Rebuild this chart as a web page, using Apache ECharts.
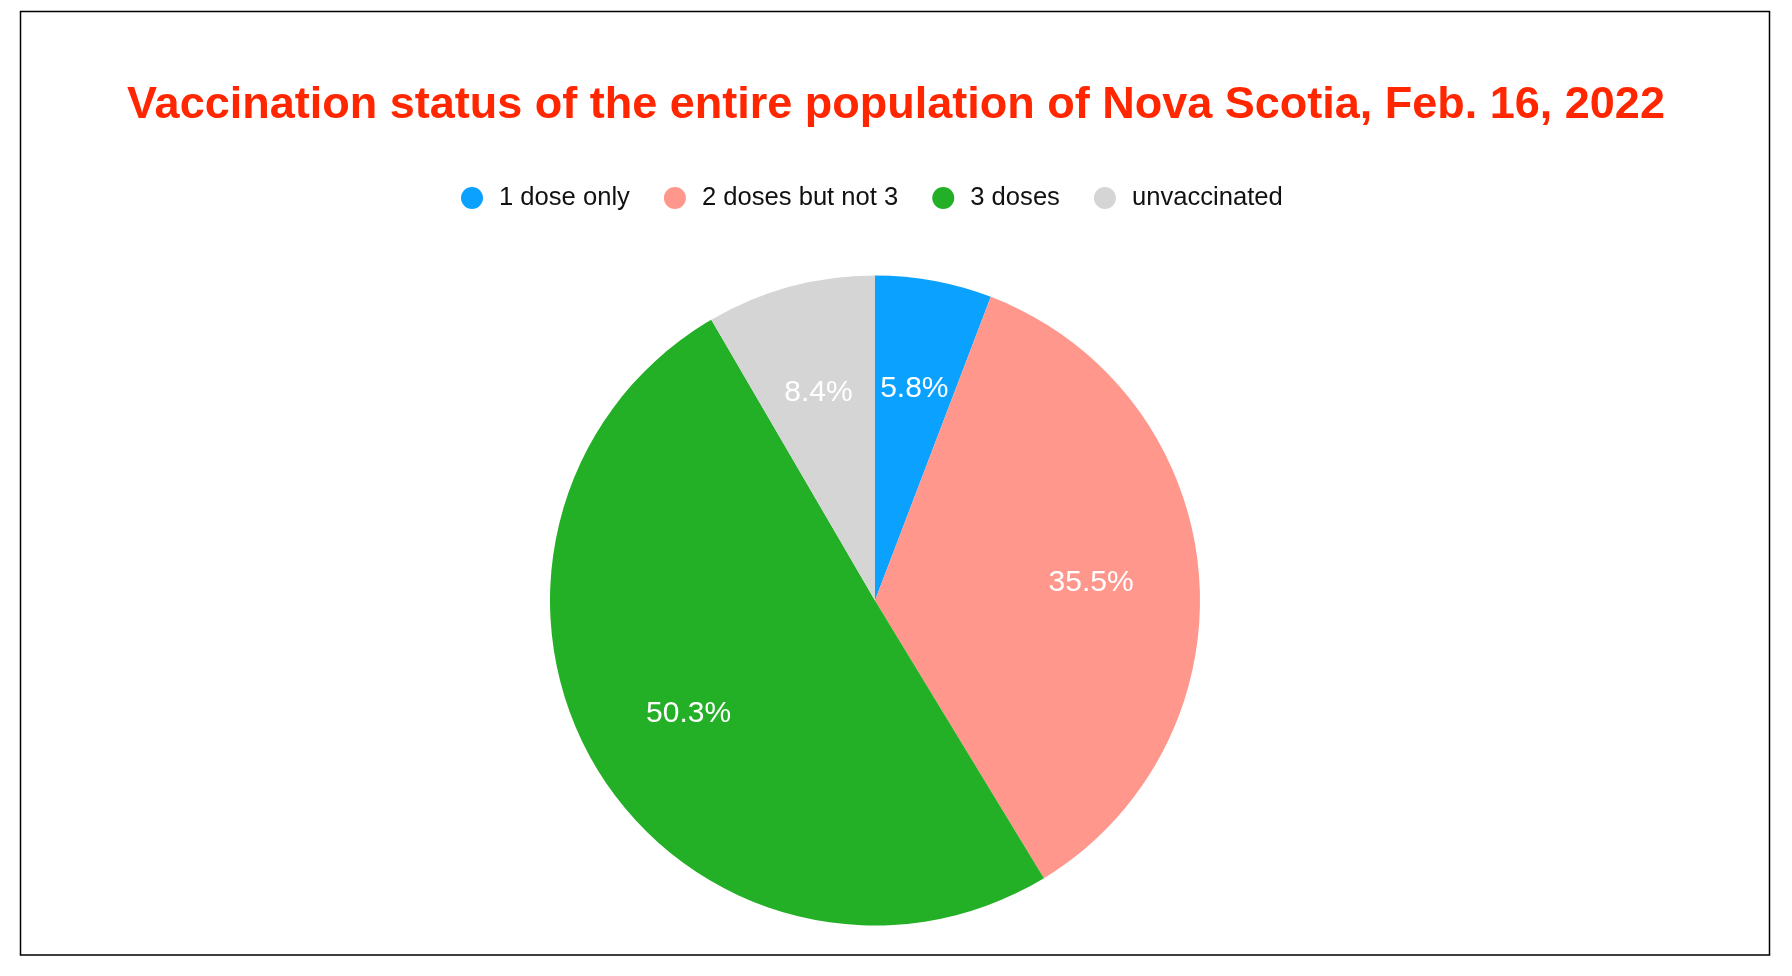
<!DOCTYPE html>
<html>
<head>
<meta charset="utf-8">
<script src="https://cdn.jsdelivr.net/npm/echarts@6/dist/echarts.min.js"></script>
<style>
html,body{margin:0;padding:0;background:#fff;}
#chart{width:1792px;height:976px;}
</style>
</head>
<body>
<div id="chart"></div>
<script>
const titleText = 'Vaccination status of the entire population of Nova Scotia, Feb. 16, 2022';
const categories = ['1 dose only', '2 doses but not 3', '3 doses', 'unvaccinated'];
const values = [5.8, 35.5, 50.3, 8.4];
const colors = ['#0aa1ff', '#ff978d', '#23b027', '#d5d5d5'];

const pieData = categories.map((name, i) => ({ name, value: values[i], itemStyle: { color: colors[i] } }));
const labelData = categories.map((name, i) => ({ name, value: values[i] }));

const chart = echarts.init(document.getElementById('chart'), null, { renderer: 'canvas' });
chart.setOption({
  backgroundColor: '#ffffff',
  animation: false,
  title: {
    text: titleText,
    left: 'center',
    top: 78,
    textStyle: { color: '#ff2600', fontSize: 45, fontWeight: 'bold', fontFamily: 'Liberation Sans, Arial, sans-serif' }
  },
  legend: {
    data: categories,
    top: 185,
    left: 461,
    padding: 0,
    icon: 'circle',
    itemWidth: 22,
    itemHeight: 22,
    itemGap: 34,
    textStyle: { color: '#111', fontSize: 25.6, fontFamily: 'Liberation Sans, Arial, sans-serif', padding: [0, 0, 0, 11] }
  },
  graphic: [{
    type: 'rect',
    shape: { x: 20.5, y: 11.5, width: 1749, height: 943.5 },
    style: { fill: null, stroke: '#000', lineWidth: 1.5 },
    silent: true,
    z: 0
  }],
  series: [{
    type: 'pie',
    center: [875, 600.5],
    radius: [0, 325],
    startAngle: 90,
    clockwise: true,
    label: { show: false },
    labelLine: { show: false },
    emphasis: { disabled: true },
    data: pieData
  }, {
    type: 'pie',
    center: [875, 600.5],
    radius: [0, 428],
    startAngle: 90,
    clockwise: true,
    silent: true,
    legendHoverLink: false,
    itemStyle: { color: 'rgba(0,0,0,0)' },
    label: {
      show: true,
      position: 'inside',
      offset: [0, 2],
      formatter: p => p.value.toFixed(1) + '%',
      color: '#ffffff',
      fontSize: 30,
      fontFamily: 'Liberation Sans, Arial, sans-serif'
    },
    labelLine: { show: false },
    emphasis: { disabled: true },
    z: 3,
    data: labelData
  }]
});
</script>
</body>
</html>
